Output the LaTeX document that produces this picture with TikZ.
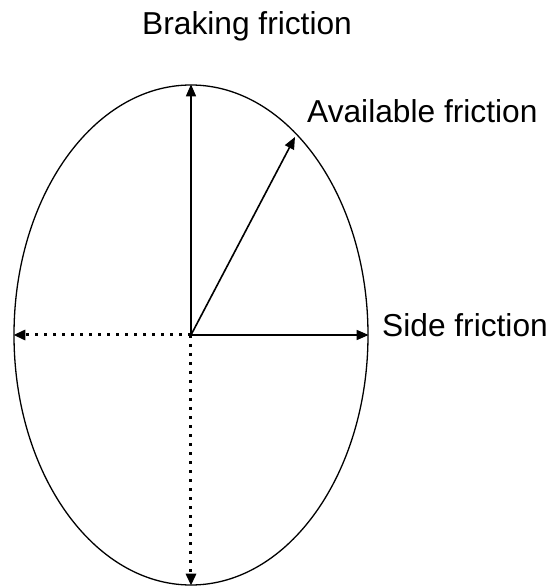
\documentclass[tikz,border=0pt]{standalone}
\usepackage{fontspec}
\setmainfont{Liberation Sans}
\usetikzlibrary{arrows.meta,shapes.geometric}

\begin{document}
\begin{tikzpicture}[x=1pt,y=1pt,
    solidArrow/.style={line width=1.6pt,-{Triangle[length=12pt,width=10pt]}},
    dottedArrow/.style={line width=3pt,dash pattern=on 3pt off 6pt,-{Triangle[length=12pt,width=10pt]}},
    forceLabel/.style={anchor=base west,inner sep=0pt,font=\fontsize{31.7}{36}\selectfont}]
    \useasboundingbox (-191,-251) rectangle (357,335);
    \node[draw,line width=1.3pt,ellipse,inner sep=0pt,minimum width=354pt,minimum height=500pt] (oval) at (0,0) {};
    \coordinate (avail) at (104,198);
    \draw[solidArrow] (oval.center) -- (oval.north);
    \draw[solidArrow] (oval.center) -- (oval.east);
    \draw[solidArrow] (oval.center) -- (avail);
    \draw[dottedArrow] (oval.center) -- (oval.west);
    \draw[dottedArrow] (oval.center) -- (oval.south);
    \node[forceLabel] (braking) at (-49,300) {Braking friction};
    \node[forceLabel] (available) at (116,212) {Available friction};
    \node[forceLabel] (side) at (191,-2) {Side friction};
  \end{tikzpicture}
\end{document}
